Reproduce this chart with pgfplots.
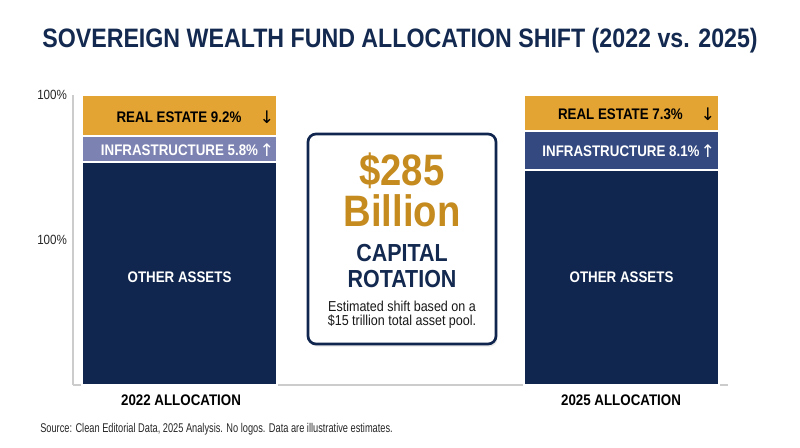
\documentclass[border=0pt]{standalone}
\usepackage{pgfplots}
\pgfplotsset{compat=1.18}
\usetikzlibrary{shadows}
\usepackage{fontspec}
\setmainfont{Liberation Sans}[FakeStretch=0.87]
\newfontfamily\arrowfont{DejaVu Sans}
\newfontfamily\narrowfont{Liberation Sans}[FakeStretch=0.73]
\definecolor{navy}{HTML}{10264F}
\definecolor{orangebar}{HTML}{E3A433}
\definecolor{lavender}{HTML}{7C82B1}
\definecolor{blue25}{HTML}{34497F}
\definecolor{goldtxt}{HTML}{C58B1F}
\definecolor{titlenavy}{HTML}{13294F}
\definecolor{axisgray}{HTML}{CCCCCC}
\begin{document}
\begin{tikzpicture}
\useasboundingbox (-54.75pt,-46.5pt) rectangle (545.25pt,288.75pt);
\begin{axis}[
  scale only axis,
  width=491.25pt, height=217.5pt,
  xmin=-0.241, xmax=1.241, ymin=0, ymax=100,
  axis lines*=left,
  axis line style={draw=axisgray, line width=1pt},
  ybar stacked, bar width=146.25pt,
  xtick=\empty,
  ytick={50,100}, yticklabels={100\%,100\%},
  major tick length=0pt,
  yticklabel style={font=\fontsize{10}{12}\selectfont, text=black!85, xshift=-1pt},
  clip=false,
]
% Other assets
\addplot[fill=navy, draw=white, line width=1.2pt] coordinates {(0,76.9) (1,74.1)};
% Infrastructure 2022
\addplot[fill=lavender, draw=white, line width=1.2pt] coordinates {(0,9.0) (1,0)};
% Infrastructure 2025
\addplot[fill=blue25, draw=white, line width=1.2pt] coordinates {(0,0) (1,13.4)};
% Real estate
\addplot[fill=orangebar, draw=white, line width=1.2pt] coordinates {(0,14.1) (1,12.5)};
\end{axis}
% Title
\node[anchor=base, text=titlenavy, font=\bfseries\fontsize{20}{24}\selectfont] at (245.25pt,253.1pt) {SOVEREIGN WEALTH FUND ALLOCATION SHIFT (2022 vs. 2025)};
% Bar labels
\tikzset{lbl/.style={anchor=base, font=\bfseries\fontsize{11.5}{13}\selectfont}}
\node[lbl, text=black] at (79.5pt,196.9pt) {REAL ESTATE 9.2\%};
\node[text=black, font=\arrowfont\fontsize{13}{13}\selectfont] at (145.5pt,201pt) {↓};
\node[lbl, text=white] at (79.9pt,172.1pt) {INFRASTRUCTURE 5.8\%};
\node[text=white, font=\arrowfont\fontsize{13}{13}\selectfont] at (145.5pt,176.25pt) {↑};
\node[lbl, text=black] at (410.6pt,199.1pt) {REAL ESTATE 7.3\%};
\node[text=black, font=\arrowfont\fontsize{13}{13}\selectfont] at (476.25pt,203.25pt) {↓};
\node[lbl, text=white] at (411pt,171.4pt) {INFRASTRUCTURE 8.1\%};
\node[text=white, font=\arrowfont\fontsize{13}{13}\selectfont] at (476.25pt,175.5pt) {↑};
\node[lbl, text=white] at (79.9pt,76.9pt) {OTHER ASSETS};
\node[lbl, text=white] at (411.4pt,76.9pt) {OTHER ASSETS};
% X labels
\node[lbl, text=black] at (81pt,-15.4pt) {2022 ALLOCATION};
\node[lbl, text=black] at (411pt,-15.4pt) {2025 ALLOCATION};
% Center box
\draw[navy, line width=2pt, rounded corners=6pt, fill=white,
  drop shadow={opacity=0.18, shadow xshift=1pt, shadow yshift=-2pt}]
  (176.25pt,30.75pt) rectangle (317.25pt,188.25pt);
\node[anchor=base, inner sep=0pt, text=goldtxt, font=\bfseries\fontsize{33}{40}\selectfont] at (246.75pt,149.5pt) {\$285};
\node[anchor=base, inner sep=0pt, text=goldtxt, font=\bfseries\fontsize{33}{40}\selectfont] at (246.75pt,118.5pt) {Billion};
\node[anchor=base, inner sep=0pt, text=titlenavy, font=\bfseries\fontsize{18.5}{22}\selectfont] at (246.75pt,92.25pt) {CAPITAL};
\node[anchor=base, inner sep=0pt, text=titlenavy, font=\bfseries\fontsize{18.5}{22}\selectfont] at (246.75pt,73.5pt) {ROTATION};
\node[anchor=base, inner sep=0pt, text=black!90, font=\fontsize{10.8}{13}\selectfont] at (246.75pt,55.5pt) {Estimated shift based on a};
\node[anchor=base, inner sep=0pt, text=black!90, font=\fontsize{10.8}{13}\selectfont] at (246.75pt,45pt) {\$15 trillion total asset pool.};
% Source
\node[anchor=base west, inner sep=0pt, text=black!85, font=\narrowfont\fontsize{9.5}{11}\selectfont] at (-24.75pt,-35.8pt) {Source: Clean Editorial Data, 2025 Analysis. No logos. Data are illustrative estimates.};
\end{tikzpicture}
\end{document}
